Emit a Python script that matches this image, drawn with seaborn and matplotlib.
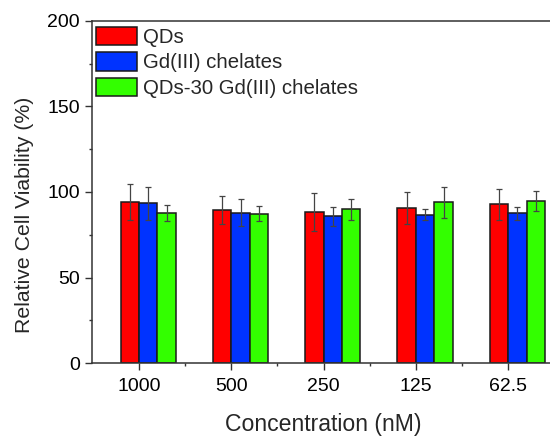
import matplotlib
matplotlib.use("Agg")
import matplotlib.pyplot as plt
import seaborn as sns
import pandas as pd
from matplotlib.ticker import FixedLocator

concentrations = ["1000", "500", "250", "125", "62.5"]
series = ["QDs", "Gd(III) chelates", "QDs-30 Gd(III) chelates"]
qds = [94.0, 89.6, 88.4, 90.8, 92.9]
qds_err = [10.5, 8.0, 11.0, 9.3, 9.0]
gd = [93.5, 87.9, 85.7, 86.7, 87.5]
gd_err = [9.7, 7.9, 5.6, 3.2, 3.8]
qgd = [87.9, 87.3, 89.8, 93.9, 94.9]
qgd_err = [4.6, 4.4, 6.1, 9.0, 5.8]
colors = ["#FF0000", "#0033FF", "#33FF00"]

vals = [qds, gd, qgd]
errs = [qds_err, gd_err, qgd_err]
rows = []
for s, v in zip(series, vals):
    for c, y in zip(concentrations, v):
        rows.append({"conc": c, "series": s, "val": y})
df = pd.DataFrame(rows)

sns.set_style("ticks")
plt.rcParams['font.family'] = ['Liberation Sans', 'DejaVu Sans']

fig = plt.figure(figsize=(5.5, 4.37), dpi=100)
ax = fig.add_axes([92.3 / 550, 73.7 / 437, 462 / 550, 342.6 / 437])

sns.barplot(data=df, x="conc", y="val", hue="series", order=concentrations,
            hue_order=series, palette=colors, errorbar=None, width=0.6,
            edgecolor="#1a1a1a", linewidth=1.1, saturation=1, ax=ax, legend=True)

for cont, e in zip(ax.containers, errs):
    xs = [p.get_x() + p.get_width() / 2 for p in cont.patches]
    hs = [p.get_height() for p in cont.patches]
    ax.errorbar(xs, hs, yerr=e, fmt="none", ecolor="#444444", elinewidth=0.9,
                capsize=2.5, capthick=0.9, zorder=5)

ax.set_xlim(-0.606, 4.4)
ax.set_ylim(0, 200)
ax.set_xticks([i - 0.1 for i in range(len(concentrations))])
ax.set_xticklabels(concentrations)
ax.xaxis.set_minor_locator(FixedLocator([i + 0.4 for i in range(len(concentrations) - 1)]))
ax.set_yticks([0, 50, 100, 150, 200])
ax.yaxis.set_minor_locator(FixedLocator([25, 75, 125, 175]))

ax.tick_params(axis="both", which="major", length=4.8, width=1.0, color="#333333",
               labelsize=14, labelcolor="black")
ax.tick_params(axis="x", which="major", pad=6)
ax.tick_params(axis="y", which="major", pad=4)
ax.tick_params(axis="both", which="minor", length=2.5, width=1.0, color="#333333")

for sp in ax.spines.values():
    sp.set_visible(True)
    sp.set_color("#333333")
    sp.set_linewidth(1.1)

ax.set_xlabel("Concentration (nM)", fontsize=16.6, labelpad=13)
ax.set_ylabel("Relative Cell Viability (%)", fontsize=15.3, labelpad=10, y=0.433)

ax.legend(loc="upper left", bbox_to_anchor=(3.4 / 462, 1 - 6 / 342.6), frameon=False,
          fontsize=14.7, handlelength=2.0, handleheight=1.0, handletextpad=0.3,
          labelspacing=0.27, borderpad=0, borderaxespad=0)

fig.savefig("out.png", dpi=100)
